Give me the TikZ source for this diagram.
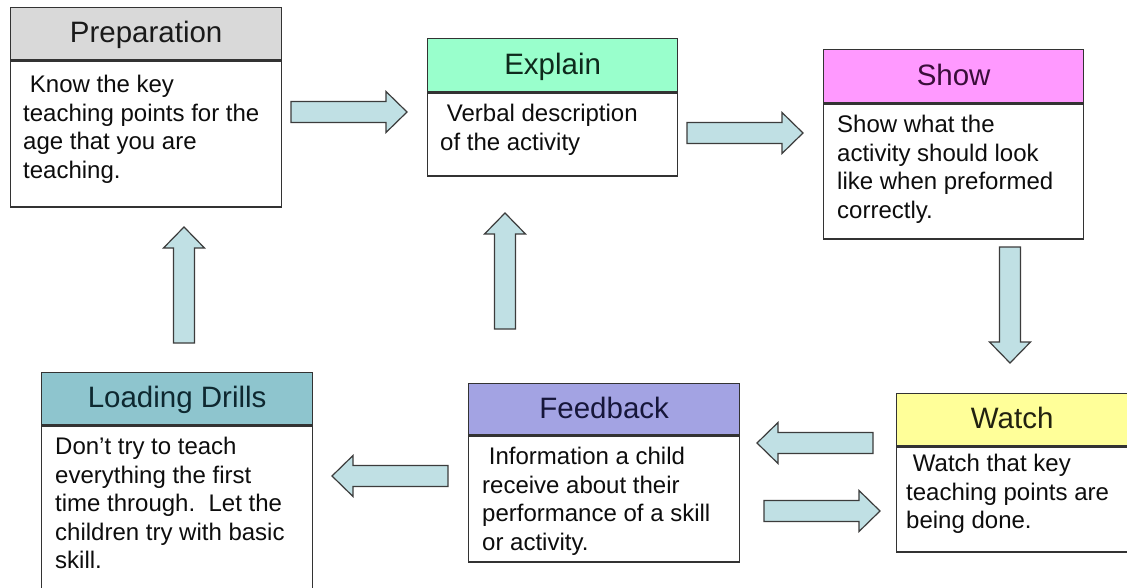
\documentclass[tikz,border=0pt]{standalone}
\usepackage{fontspec}
\setmainfont{Liberation Sans}
\usetikzlibrary{calc}
\definecolor{edge}{HTML}{333333}
\definecolor{arrowedge}{HTML}{3C3C3C}
\definecolor{arrowfill}{HTML}{C0E0E4}
\definecolor{prepfill}{HTML}{D9D9D9}
\definecolor{explfill}{HTML}{99FFCC}
\definecolor{showfill}{HTML}{FF99FF}
\definecolor{loadfill}{HTML}{8EC5CE}
\definecolor{feedfill}{HTML}{A3A3E3}
\definecolor{watchfill}{HTML}{FFFF99}
\definecolor{prepink}{HTML}{1A1A1A}
\definecolor{explink}{HTML}{0E2A1C}
\definecolor{showink}{HTML}{3A0E3A}
\definecolor{loadink}{HTML}{0E2830}
\definecolor{feedink}{HTML}{16163A}
\definecolor{watchink}{HTML}{222210}
\begin{document}
\begin{tikzpicture}[x=1pt,y=-1pt,
  box/.style={draw=edge, line width=1.3pt, rectangle, inner sep=0pt, anchor=north west},
  hdr/.style={box, font=\fontsize{29.5}{34}\selectfont, text height=18pt, text depth=0pt},
  bodybox/.style={box, fill=white},
  txt/.style={anchor=north west, inner sep=0pt, align=left,
    font=\fontsize{24}{28.5}\selectfont, text=black!95},
  barrowstyle/.style={draw=arrowedge, fill=arrowfill, line width=1.2pt, line join=miter},
  pics/barrow/.style={code={
    \draw[barrowstyle] (0,-10.5) -- (95,-10.5) -- (95,-20.5) -- (116,0)
      -- (95,20.5) -- (95,10.5) -- (0,10.5) -- cycle;}}
]
\useasboundingbox (0,0) rectangle (1127,588);
\fill[white] (0,0) rectangle (1127,588);

% Preparation
\node[hdr, fill=prepfill, text=prepink, minimum width=271pt, minimum height=52pt] (prep-h) at (10,7) {Preparation};
\node[bodybox, minimum width=271pt, minimum height=146pt] (prep-b) at (prep-h.south west) {};
\node[txt] (prep-t) at ([shift={(13,15)}]prep-b.north west)
  {\hspace*{0.28em}Know the key\\teaching points for the\\age that you are\\teaching.};

% Explain
\node[hdr, fill=explfill, text=explink, minimum width=250pt, minimum height=53pt] (expl-h) at (427,38) {Explain};
\node[bodybox, minimum width=250pt, minimum height=83pt] (expl-b) at (expl-h.south west) {};
\node[txt] (expl-t) at ([shift={(13,12)}]expl-b.north west)
  {\hspace*{0.28em}Verbal description\\of the activity};

% Show
\node[hdr, fill=showfill, text=showink, minimum width=260pt, minimum height=53pt] (show-h) at (823,49) {Show};
\node[bodybox, minimum width=260pt, minimum height=135pt] (show-b) at (show-h.south west) {};
\node[txt] (show-t) at ([shift={(14,11.8)}]show-b.north west)
  {Show what the\\activity should look\\like when preformed\\correctly.};

% Loading Drills
\node[hdr, fill=loadfill, text=loadink, minimum width=271pt, minimum height=52pt] (load-h) at (41,372) {Loading Drills};
\node[bodybox, minimum width=271pt, minimum height=230pt] (load-b) at (load-h.south west) {};
\node[txt] (load-t) at ([shift={(14,11.8)}]load-b.north west)
  {Don’t try to teach\\everything the first\\time through.\ \ Let the\\children try with basic\\skill.};

% Feedback
\node[hdr, fill=feedfill, text=feedink, minimum width=271pt, minimum height=51pt] (feed-h) at (468,383) {Feedback};
\node[bodybox, minimum width=271pt, minimum height=126pt] (feed-b) at (feed-h.south west) {};
\node[txt] (feed-t) at ([shift={(14,11.8)}]feed-b.north west)
  {\hspace*{0.28em}Information a child\\receive about their\\performance of a skill\\or activity.};

% Watch
\node[hdr, fill=watchfill, text=watchink, minimum width=245pt, minimum height=52pt] (watch-h) at (896,393) {\hspace*{-14pt}Watch};
\node[bodybox, minimum width=245pt, minimum height=105pt] (watch-b) at (watch-h.south west) {};
\node[txt] (watch-t) at ([shift={(10,7.8)}]watch-b.north west)
  {\hspace*{0.28em}Watch that key\\teaching points are\\being done.};

% block arrows (tail points)
\coordinate (a-prep-expl) at (291,112);
\coordinate (a-expl-show) at (687,133);
\coordinate (a-show-watch) at (1010,247);
\coordinate (a-watch-feed) at (873,443);
\coordinate (a-feed-watch) at (764,511);
\coordinate (a-feed-load) at (448,476);
\coordinate (a-load-prep) at (184,343);
\coordinate (a-feed-expl) at (505,329);

\pic at (a-prep-expl) {barrow};
\pic at (a-expl-show) {barrow};
\pic[rotate=-90] at (a-show-watch) {barrow};
\pic[rotate=180] at (a-watch-feed) {barrow};
\pic at (a-feed-watch) {barrow};
\pic[rotate=180] at (a-feed-load) {barrow};
\pic[rotate=90] at (a-load-prep) {barrow};
\pic[rotate=90] at (a-feed-expl) {barrow};
\end{tikzpicture}
\end{document}
